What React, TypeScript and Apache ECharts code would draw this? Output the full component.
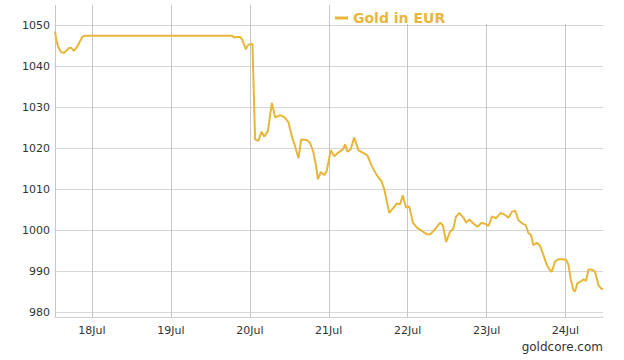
import React, { useEffect, useRef } from "react";
import * as echarts from "echarts";

// hours since 17 Jul 00:00
const hours = [12.75,13.2,13.7,14.6,15.5,16.1,17.0,17.6,18.5,19.4,20.4,21.0,21.9,66.6,67.2,68.1,69.0,69.6,70.8,71.2,72.1,72.8,73.6,74.6,75.6,76.4,77.5,78.7,79.7,81.2,82.4,83.7,84.8,85.5,86.8,87.6,89.3,90.3,91.3,92.1,92.7,93.6,94.6,95.4,96.6,97.7,98.9,100.3,101.0,101.7,102.7,103.7,105.0,106.3,107.7,109.1,110.6,112.1,112.9,114.4,115.7,116.7,117.7,118.5,119.5,120.5,121.6,122.8,124.3,125.8,126.8,128.3,129.9,130.7,131.7,132.9,133.9,134.7,135.7,137.0,137.8,138.8,140.0,141.2,142.5,143.5,144.6,145.6,146.9,148.3,149.6,150.7,151.7,152.7,153.7,154.9,155.9,156.7,157.5,158.2,159.3,160.3,161.3,162.3,163.3,163.8,164.8,165.9,167.2,168.2,168.9,169.6,170.4,170.9,171.6,172.5,173.5,174.2,175.0,176.0,177.0,178.0,178.8,179.4];

const prices = [1048.4,1046.3,1044.7,1043.4,1043.2,1043.7,1044.4,1044.5,1043.7,1044.6,1046.1,1047.1,1047.4,1047.4,1047.0,1047.1,1047.1,1046.6,1044.1,1044.9,1045.4,1045.4,1022.1,1021.8,1024.0,1022.8,1024.2,1031.0,1027.5,1028.0,1027.6,1026.4,1022.8,1021.1,1017.5,1022.1,1022.0,1021.3,1019.1,1015.9,1012.4,1014.2,1013.4,1014.5,1019.5,1018.0,1018.9,1019.7,1020.9,1019.1,1019.7,1022.6,1019.5,1018.9,1018.3,1015.6,1013.4,1011.8,1009.9,1004.2,1005.5,1006.5,1006.3,1008.5,1005.5,1005.7,1001.8,1000.6,999.8,999.0,998.9,1000.2,1001.8,1001.2,997.1,999.6,1000.4,1003.3,1004.2,1003.0,1001.8,1002.6,1001.6,1000.8,1001.8,1001.5,1001.0,1003.3,1002.9,1004.2,1003.7,1003.0,1004.5,1004.7,1002.4,1001.6,1001.2,999.3,998.8,996.3,996.9,996.1,993.9,991.5,990.2,989.8,992.3,992.9,992.9,992.7,991.5,988.0,985.4,985.0,987.0,987.4,988.0,987.6,990.4,990.4,989.8,986.6,985.8,985.5];

// day 1 = 18 Jul
const dayLabels = ["18Jul", "19Jul", "20Jul", "21Jul", "22Jul", "23Jul", "24Jul"];
const seriesName = "Gold in EUR";

const X_MIN_H = 12.75;
const X_MAX_H = 179.4;
const Y_MIN = 978.8;
const Y_MAX = 1054.9;

const GOLD = "#E8B73A";
const FONT = "DejaVu Sans";

export default function App() {
  const ref = useRef<HTMLDivElement>(null);
  useEffect(() => {
    if (!ref.current) return;
    const chart = echarts.init(ref.current, null, { renderer: "svg" });
    const data = hours.map((h, i) => [h / 24, prices[i]]);
    chart.setOption({
      animation: false,
      backgroundColor: "#fff",
      grid: { left: 55, right: 21, top: 5, bottom: 43, containLabel: false },
      legend: {
        data: [seriesName],
        left: 330,
        top: 6,
        icon: "rect",
        itemWidth: 13,
        itemHeight: 3,
        textStyle: { color: GOLD, fontWeight: "bold", fontSize: 14, fontFamily: FONT },
      },
      xAxis: {
        type: "value",
        min: X_MIN_H / 24,
        max: X_MAX_H / 24,
        minInterval: 1,
        maxInterval: 1,
        axisLine: { show: true, lineStyle: { color: "#cfcfcf", width: 1 } },
        axisTick: { show: false },
        axisLabel: {
          color: "#333",
          fontSize: 11,
          fontFamily: FONT,
          margin: 8,
          showMinLabel: false,
          showMaxLabel: false,
          formatter: (v: number) => {
            const d = Math.round(v);
            if (Math.abs(v - d) > 1e-6) return "";
            return dayLabels[d - 1] ?? "";
          },
        },
        splitLine: { show: true, showMaxLine: false, lineStyle: { color: "#c6c6c6", width: 1 } },
      },
      yAxis: {
        type: "value",
        min: Y_MIN,
        max: Y_MAX,
        minInterval: 10,
        maxInterval: 10,
        axisLine: { show: false },
        axisTick: { show: false },
        axisLabel: {
          color: "#333",
          fontSize: 11,
          fontFamily: FONT,
          margin: 5,
          showMinLabel: false,
          showMaxLabel: false,
          formatter: (v: number) => {
            const r = Math.round(v / 10) * 10;
            return Math.abs(v - r) < 1e-6 ? String(r) : "";
          },
        },
        splitLine: { show: true, showMaxLine: false, lineStyle: { color: "#d6d6d6", width: 1 } },
      },
      graphic: [
        {
          type: "rect",
          z: 1,
          shape: { x: 400, y: 0, width: 210, height: 24 },
          style: { fill: "#fff" },
          silent: true,
        },
        {
          type: "text",
          right: 21,
          bottom: 7,
          style: { text: "goldcore.com", fill: "#333", fontSize: 12, fontFamily: FONT },
        },
      ],
      series: [
        {
          name: seriesName,
          type: "line",
          data,
          showSymbol: false,
          symbol: "none",
          lineStyle: { color: GOLD, width: 2 },
          itemStyle: { color: GOLD },
        },
      ],
    });
    return () => chart.dispose();
  }, []);
  return (
    <div
      ref={ref}
      style={{ position: "fixed", left: 0, top: 0, width: 624, height: 360 }}
    />
  );
}
